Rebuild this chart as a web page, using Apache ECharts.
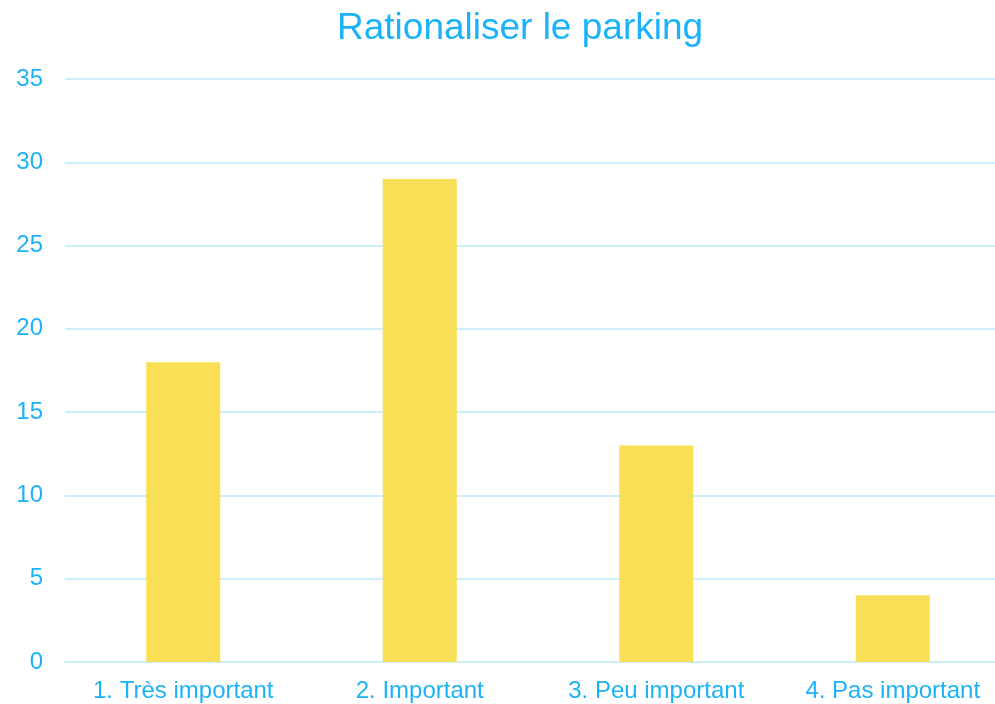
<!DOCTYPE html>
<html>
<head>
	<meta charset="utf-8">
	<title>Rationaliser le parking</title>
	<script src="https://cdn.jsdelivr.net/npm/echarts@6/dist/echarts.min.js"></script>
	<style>
	html, body { margin: 0; height: 100%; }
	#main { width: 995px; height: 704px; background: #ffffff; }
	</style>
</head>
<body>
<div id="main"></div>
<script>
	var categories = ['1. Très important', '2. Important', '3. Peu important', '4. Pas important'];
	var values = [18, 29, 13, 4];

	var TEXT = '#1cb2f8';
	var LINE = '#cdeefb';
	var FONT = 'Liberation Sans, Arial, sans-serif';

	var myChart = echarts.init(document.getElementById('main'));

	var option = {
		animation: false,
		textStyle: { fontFamily: FONT },
		title: {
			text: 'Rationaliser le parking',
			left: 337,
			top: 10,
			padding: 0,
			textStyle: { color: TEXT, fontSize: 37, fontWeight: 'normal', fontFamily: FONT }
		},
		// plot runs a bit past the right edge, like the original
		grid: { left: 65, right: -16, top: 79, bottom: 42, containLabel: false, outerBoundsMode: 'none' },
		xAxis: {
			type: 'category',
			data: categories,
			axisLine: { lineStyle: { color: LINE, width: 2 } },
			axisTick: { show: false },
			axisLabel: { color: TEXT, fontSize: 24, margin: 17, fontFamily: FONT }
		},
		yAxis: {
			type: 'value',
			min: 0,
			max: 35,
			interval: 5,
			axisLine: { show: false },
			axisTick: { show: false },
			axisLabel: { color: TEXT, fontSize: 24, margin: 22, fontFamily: FONT },
			splitLine: { lineStyle: { color: LINE, width: 2 } }
		},
		series: [{
			type: 'bar',
			data: values,
			barWidth: '31.3%',
			itemStyle: { color: '#f9df55' }
		}]
	};
	myChart.setOption(option);
</script>
</body>
</html>
